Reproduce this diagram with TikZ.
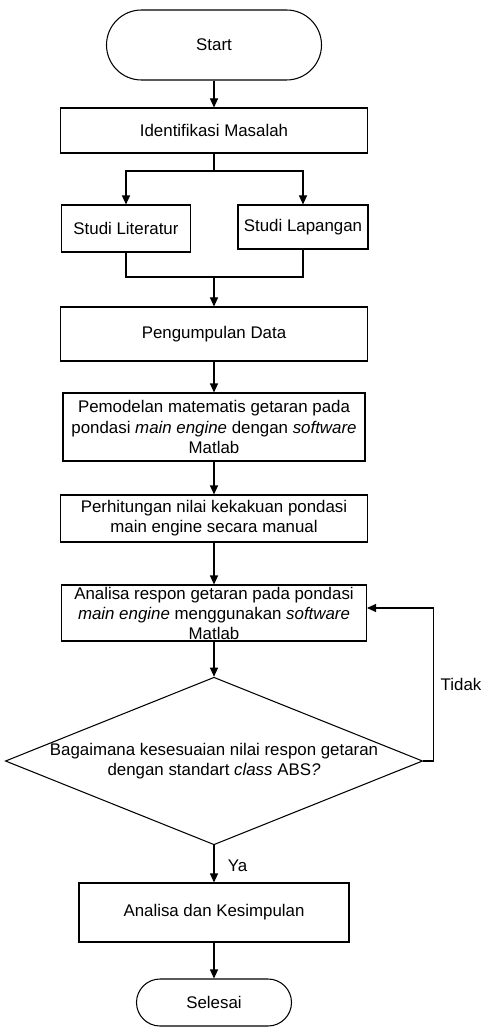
\documentclass[tikz,border=0pt]{standalone}
\usepackage{fontspec}
\setmainfont{Liberation Sans}
\usepackage{tikz}
\usetikzlibrary{shapes.geometric, arrows.meta, positioning, calc}

\tikzset{
  proses/.style={draw, line width=0.6pt, align=center, inner xsep=2pt, inner ysep=1pt},
  terminal/.style={draw, line width=0.6pt, align=center, rounded corners=0.7cm},
  keputusan/.style={draw, line width=0.6pt, diamond, align=center, inner sep=0pt,
                    aspect=2.49, minimum width=8.16cm, minimum height=3.28cm},
  panah/.style={line width=0.6pt, -{Triangle[length=0.18cm, width=0.16cm]}},
  garis/.style={line width=0.6pt}
}

\begin{document}
\begin{tikzpicture}[font=\fontsize{9.6}{11.4}\selectfont]
  \useasboundingbox (0,0) rectangle (9.62,-20.56);

  \node[terminal, minimum width=4.30cm, minimum height=1.40cm] (start) at (4.28,-0.90) {Start};
  \node[proses, minimum width=6.14cm, minimum height=0.90cm] (ident) at (4.28,-2.61) {Identifikasi Masalah};
  \node[proses, minimum width=2.58cm, minimum height=0.94cm] (lit) at (2.52,-4.57) {Studi Literatur};
  \node[proses, minimum width=2.60cm, minimum height=0.88cm] (lap) at (6.06,-4.54) {Studi Lapangan};
  \node[proses, minimum width=6.14cm, minimum height=1.08cm] (data) at (4.28,-6.68) {Pengumpulan Data};
  \node[proses, minimum width=6.04cm, minimum height=1.36cm] (model) at (4.28,-8.54)
    {Pemodelan matematis getaran pada\\ pondasi \textit{main engine} dengan \textit{software}\\ Matlab};
  \node[proses, minimum width=6.14cm, minimum height=0.94cm] (hitung) at (4.28,-10.37)
    {Perhitungan nilai kekakuan pondasi\\ main engine secara manual};
  \node[proses, minimum width=6.10cm, minimum height=1.06cm] (respon) at (4.28,-12.26)
    {Analisa respon getaran pada pondasi\\ \textit{main engine} menggunakan \textit{software}\\ Matlab};
  \node[keputusan] (cek) at (4.28,-15.22)
    {Bagaimana kesesuaian nilai respon getaran\\ dengan standart \textit{class} ABS\textit{?}};
  \node[proses, minimum width=5.40cm, minimum height=1.18cm] (simpul) at (4.28,-18.25) {Analisa dan Kesimpulan};
  \node[terminal, rounded corners=0.47cm, minimum width=3.10cm, minimum height=0.94cm] (selesai) at (4.28,-20.05) {Selesai};

  % percabangan studi
  \coordinate (pisah) at (4.28,-3.42);
  \coordinate (gabung) at (4.28,-5.54);

  \draw[panah] (start) -- (ident);
  \draw[garis] (ident.south) -- (pisah);
  \draw[panah] (pisah) -| (lit.north);
  \draw[panah] (pisah) -| (lap.north);
  \draw[garis] (lit.south) |- (gabung);
  \draw[garis] (lap.south) |- (gabung);
  \draw[panah] (gabung) -- (data.north);
  \draw[panah] (data) -- (model);
  \draw[panah] (model) -- (hitung);
  \draw[panah] (hitung) -- (respon);
  \draw[panah] (respon) -- (cek);
  \draw[panah] (cek.south) -- node[pos=0.55, right=0.15cm] {Ya} (simpul.north);
  \draw[panah] (simpul) -- (selesai);

  % umpan balik
  \draw[panah] (cek.east) -- ++(0.2,0) |- node[pos=0.25, anchor=west, inner sep=0pt, xshift=0.14cm] {Tidak} ([yshift=0.1cm]respon.east);
\end{tikzpicture}
\end{document}
